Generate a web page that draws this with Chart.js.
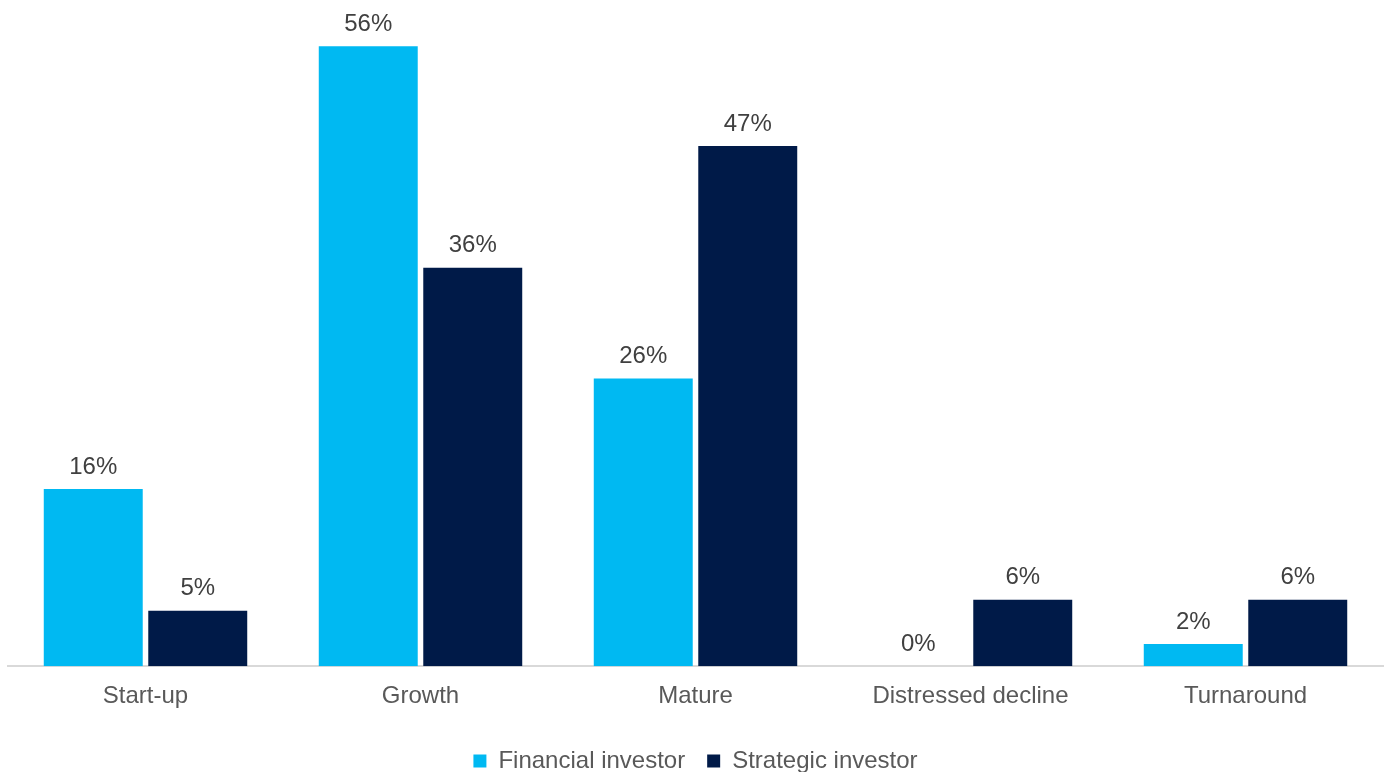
<!DOCTYPE html>
<html>
<head>
<meta charset="utf-8">
<script src="https://cdn.jsdelivr.net/npm/chart.js@4.4.0/dist/chart.umd.min.js"></script>
<style>
  html, body { margin: 0; padding: 0; background: #fff; }
  #wrap { width: 1388px; height: 772px; }
</style>
</head>
<body>
<div id="wrap"><canvas id="grafica"></canvas></div>
<script>
// datos del gráfico
const categorias = ['Start-up', 'Growth', 'Mature', 'Distressed decline', 'Turnaround'];
const financiero = [16, 56, 26, 0, 2];
const estrategico = [5, 36, 47, 6, 6];
const series = ['Financial investor', 'Strategic investor'];

const fuente = '"Liberation Sans", Arial, sans-serif';

// etiquetas de porcentaje encima de cada barra
const etiquetas = {
    id: 'etiquetas',
    afterDatasetsDraw(chart) {
        const ctx = chart.ctx;
        ctx.save();
        ctx.font = '24px ' + fuente;
        ctx.fillStyle = '#404040';
        ctx.textAlign = 'center';
        ctx.textBaseline = 'bottom';
        chart.data.datasets.forEach((ds, i) => {
            chart.getDatasetMeta(i).data.forEach((bar, j) => {
                ctx.fillText(ds.data[j] + '%', bar.x, bar.y - 10);
            });
        });
        ctx.restore();
    }
};

const ctx = document.getElementById('grafica').getContext('2d');
new Chart(ctx, {
    type: 'bar',
    data: {
        labels: categorias,
        datasets: [{
            label: series[0],
            data: financiero,
            backgroundColor: '#00b9f2',
            categoryPercentage: 0.76,
            barPercentage: 0.947
        }, {
            label: series[1],
            data: estrategico,
            backgroundColor: '#001a48',
            categoryPercentage: 0.76,
            barPercentage: 0.947
        }]
    },
    options: {
        responsive: true,
        maintainAspectRatio: false,
        animation: false,
        layout: {
            padding: { left: 8, right: 5, top: 2, bottom: -11 }
        },
        scales: {
            x: {
                grid: { display: false, drawTicks: false },
                border: { color: '#d9d9d9', width: 2 },
                ticks: {
                    color: '#595959',
                    padding: 16,
                    font: { family: fuente, size: 24 }
                }
            },
            y: {
                display: false,
                min: 0,
                max: 60
            }
        },
        plugins: {
            legend: {
                position: 'bottom',
                labels: {
                    boxWidth: 13,
                    boxHeight: 13,
                    padding: 22,
                    color: '#595959',
                    font: { family: fuente, size: 24 }
                }
            },
            tooltip: { enabled: false }
        }
    },
    plugins: [etiquetas]
});
</script>
</body>
</html>
